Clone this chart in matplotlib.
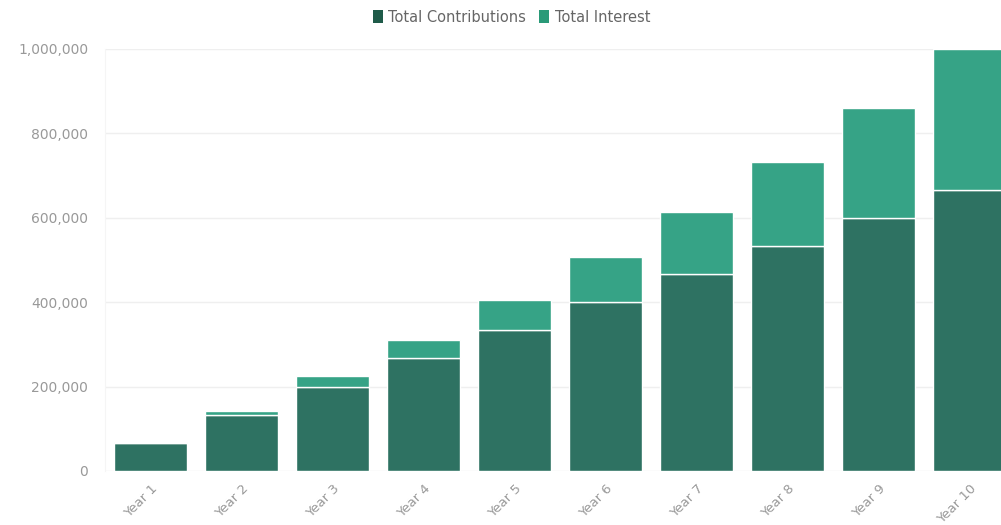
import matplotlib.pyplot as plt
from matplotlib.patches import Patch
from matplotlib.ticker import FuncFormatter

years = ["Year 1", "Year 2", "Year 3", "Year 4", "Year 5",
         "Year 6", "Year 7", "Year 8", "Year 9", "Year 10"]
contributions = [66667, 133333, 200000, 266667, 333333,
                 400000, 466667, 533333, 600000, 666667]
interest = [2000, 10000, 24000, 44000, 71000,
            106000, 148000, 200000, 261000, 333333]
y_ticks = [0, 200000, 400000, 600000, 800000, 1000000]

dark = "#2e7262"
light = "#36a386"

plt.rcParams['font.family'] = ['DejaVu Sans']

fig = plt.figure(figsize=(10.01, 5.25), dpi=100)
# axes run a bit past the right edge, like the reference (last bar is cut)
ax = fig.add_axes([105 / 1001, 54 / 525, 910 / 1001, 422 / 525])

x = list(range(len(years)))
ax.bar(x, contributions, width=0.8, color=dark, edgecolor="white",
       linewidth=1, zorder=3)
ax.bar(x, interest, width=0.8, bottom=contributions, color=light,
       edgecolor="white", linewidth=1, zorder=3)

ax.set_xlim(-0.5, len(years) - 0.5)
ax.set_ylim(0, 1000000)
ax.set_yticks(y_ticks)
ax.yaxis.set_major_formatter(FuncFormatter(lambda v, p: f"{int(v):,}"))
ax.set_xticks(x)
ax.set_xticklabels(years, rotation=45, ha="right", rotation_mode="anchor")

ax.grid(axis="y", color="#efefef", linewidth=1, zorder=0)
for s in ["top", "right", "bottom"]:
    ax.spines[s].set_visible(False)
ax.spines["left"].set_color("#f5f5f5")
ax.tick_params(axis="both", length=0, colors="#999999", labelsize=10)
ax.tick_params(axis="y", pad=12)
ax.tick_params(axis="x", pad=8, labelsize=9.5)

handles = [Patch(facecolor="#1f5b49", edgecolor="none", label="Total Contributions"),
           Patch(facecolor="#2a9a78", edgecolor="none", label="Total Interest")]
fig.legend(handles=handles, loc="center", bbox_to_anchor=(0.511, 0.967),
           ncol=2, frameon=False, fontsize=10.5, labelcolor="#666666",
           handlelength=0.7, handleheight=1.0, handletextpad=0.35,
           columnspacing=0.9)

fig.savefig("out.png", dpi=100)
